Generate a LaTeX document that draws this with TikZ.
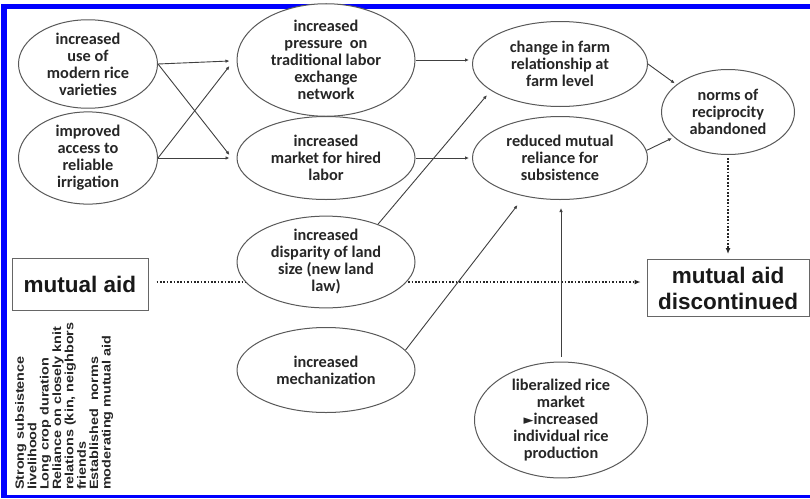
\documentclass[tikz,border=0pt]{standalone}
\usepackage{fontspec}
\setmainfont{Carlito}
\newfontfamily\arialf{Liberation Sans}
\newfontfamily\djv{DejaVu Sans}
\usetikzlibrary{shapes.geometric,arrows.meta,calc}
\pgfdeclarelayer{bg}
\pgfdeclarelayer{bgbg}
\pgfsetlayers{bgbg,bg,main}
\begin{document}
\begin{tikzpicture}[x=1pt,y=-1pt,
 ell/.style={ellipse, draw=black!65, line width=1pt, fill=white, inner sep=0pt, align=center,
   font=\fontsize{16.3}{17}\selectfont\bfseries, text=black!85},
 arr/.style={draw=black!75, line width=0.9pt, -{Latex[length=4pt,width=3.5pt]}},
 dotarr/.style={draw=black!85, line width=2pt, dash pattern=on 1.7pt off 1.7pt, -{Latex[length=6pt,width=5pt]}},
 boxn/.style={draw=black!60, line width=1pt, fill=white, inner sep=0pt, align=center,
   font=\arialf\fontsize{22.5}{26}\selectfont\bfseries, text=black!90}]

\useasboundingbox (0,0) rectangle (810,498);
\begin{pgfonlayer}{bgbg}
\fill[white] (0,0) rectangle (810,498);
\fill[blue] (1,4) rectangle (810,9);
\fill[blue] (1,4) rectangle (7,498);
\fill[blue] (1,495) rectangle (810,498);
\end{pgfonlayer}

\node[ell, minimum width=139pt, minimum height=85pt] (e1) at (88,64) {increased\\use of\\modern rice\\varieties};
\node[ell, minimum width=139pt, minimum height=83pt] (e2) at (88,158) {improved\\access to\\reliable\\irrigation};
\node[ell, minimum width=178pt, minimum height=95pt] (e3) at (326,60) {increased\\pressure~ on\\traditional labor\\exchange\\network};
\node[ell, minimum width=178pt, minimum height=83pt] (e4) at (326,158) {increased\\market for hired\\labor};
\node[ell, minimum width=175pt, minimum height=85pt] (e5) at (560,64) {change in farm\\relationship at\\farm level};
\node[ell, minimum width=175pt, minimum height=83pt] (e6) at (560,158) {reduced mutual\\reliance for\\subsistence};
\node[ell, minimum width=133pt, minimum height=85pt] (e7) at (728,112) {norms of\\reciprocity\\abandoned};
\node[ell, minimum width=178pt, minimum height=87pt] (e8) at (326,262) {increased\\disparity of land\\size (new land\\law)};
\node[ell, minimum width=178pt, minimum height=85pt] (e9) at (326,370) {increased\\mechanization};
\node[ell, minimum width=173pt, minimum height=114pt] (e10) at (561,420) {liberalized rice\\market\\{\djv\fontsize{13}{13}\selectfont ►}increased\\individual rice\\production};

\node[boxn, minimum width=136pt, minimum height=52pt] (b1) at (80,284) {mutual aid};
\node[boxn, minimum width=162pt, minimum height=57pt] (b2) at (728,288) {mutual aid\\discontinued};

\node[rotate=90, anchor=north west, inner sep=0pt, text=black!85,
  font=\arialf\bfseries\fontsize{12}{12.3}\selectfont] (side) at (15,490)
  {\scalebox{1.2}[1]{\begin{tabular}{@{}l@{}}Strong subsistence\\livelihood\\Long crop duration\\Reliance on closely knit\\relations (kin, neighbors\\friends\\Established~ norms\\moderating mutual aid\end{tabular}}};

\begin{pgfonlayer}{bg}
\draw[dotarr] ($(b1.east)+(8,-2)$) -- ($(b1.east -| b2.west)+(-6,-2)$);
\end{pgfonlayer}
\draw[dotarr, shorten <=3pt, shorten >=5pt] (e7.south) -- (e7.south |- b2.north);

\draw[arr] (e1.east) -- ($(e3.west)+(-7,1)$);
\draw[arr] (e1.east) -- ($(e4.west)+(-7,-3)$);
\draw[arr] (e2.east) -- ($(e3.west)+(-7,6)$);
\draw[arr] (e2.east) -- ($(e4.west)+(-7,0)$);
\draw[arr, shorten >=3pt] (e3.east) -- (e3.east -| e5.west);
\draw[arr, shorten >=3pt] (e4.east) -- (e4.east -| e6.west);
\draw[arr, shorten >=2pt] (e5.east) -- (e7.152);
\draw[arr, shorten >=2pt] (e6.5) -- (e7.205);
\draw[arr, shorten >=6pt] (e8.36) -- (e5.201);
\draw[arr, shorten >=11pt] (e9.14) -- (e6.227);
\draw[arr, shorten <=5pt, shorten >=8pt] (e10.north) -- (e10.north |- e6.south);
\end{tikzpicture}
\end{document}
